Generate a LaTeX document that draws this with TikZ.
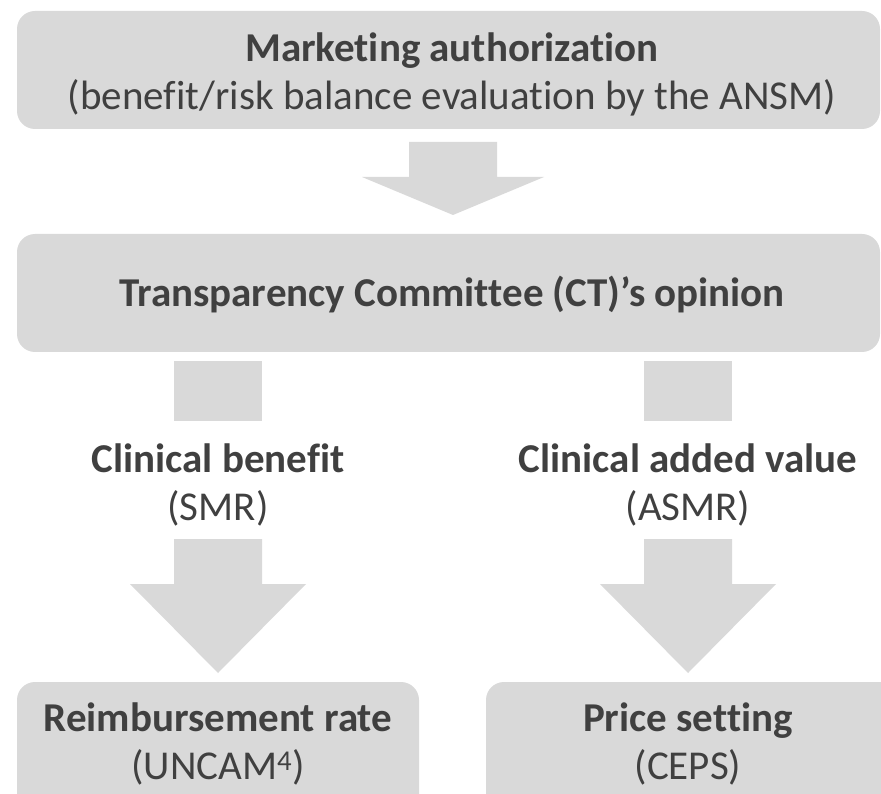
\documentclass[tikz,border=0pt]{standalone}
\usepackage{fontspec}
\setmainfont{Carlito}[Ligatures=NoCommon]
\definecolor{boxgray}{HTML}{D9D9D9}
\definecolor{txtgray}{HTML}{404040}
\tikzset{
  x=1pt, y=-1pt,
  box/.style={fill=boxgray, draw=none, rounded corners=18pt, inner sep=0pt},
  lbl/.style={text=txtgray, align=center, font=\fontsize{41}{48}\selectfont, inner sep=0pt},
  blockarrow/.style={fill=boxgray, draw=none},
  stem/.style={fill=boxgray, draw=none, inner sep=0pt, minimum width=88pt, minimum height=60pt}
}
\begin{document}
\begin{tikzpicture}
\useasboundingbox (0,0) rectangle (881,794);
\clip (0,0) rectangle (881,794);
% boxes
\fill[box] (17,11) rectangle (880,129);
\node[lbl] (t1) at (452,74) {\textbf{Marketing authorization}\\(benefit/risk balance evaluation by the ANSM)};
\fill[box] (17,234) rectangle (880,352);
\node[lbl] (t2) at (452,295) {\textbf{Transparency Committee (CT)’s opinion}};
% top block arrow
\coordinate (a1) at (453,142);
\fill[blockarrow] ([xshift=-44pt]a1) -- ([xshift=44pt]a1) -- ([xshift=44pt,yshift=-35pt]a1) -- ([xshift=91pt,yshift=-35pt]a1) -- ([yshift=-73pt]a1) -- ([xshift=-91pt,yshift=-35pt]a1) -- ([xshift=-44pt,yshift=-35pt]a1) -- cycle;
% stems
\node[stem, anchor=north] (sL) at (218,361) {};
\node[stem, anchor=north] (sR) at (688,361) {};
% labels
\node[lbl] (lL) at (218,485) {\textbf{Clinical benefit}\\(SMR)};
\node[lbl] (lR) at (688,485) {\textbf{Clinical added value}\\(ASMR)};
% lower block arrows
\foreach \cx/\nm in {218/arL, 688/arR}{
  \coordinate (\nm) at (\cx,539);
  \fill[blockarrow] ([xshift=-44pt]\nm) -- ([xshift=44pt]\nm) -- ([xshift=44pt,yshift=-45pt]\nm) -- ([xshift=88pt,yshift=-45pt]\nm) -- ([yshift=-134pt]\nm) -- ([xshift=-88pt,yshift=-45pt]\nm) -- ([xshift=-44pt,yshift=-45pt]\nm) -- cycle;
}
% bottom boxes
\fill[box] (17,682) rectangle (419,830);
\fill[box] (486,682) rectangle (900,830);
\node[lbl] (bL) at (218,744) {\textbf{Reimbursement rate}\\(UNCAM\textsuperscript{4})};
\node[lbl] (bR) at (688,744) {\textbf{Price setting}\\(CEPS)};
\end{tikzpicture}
\end{document}
